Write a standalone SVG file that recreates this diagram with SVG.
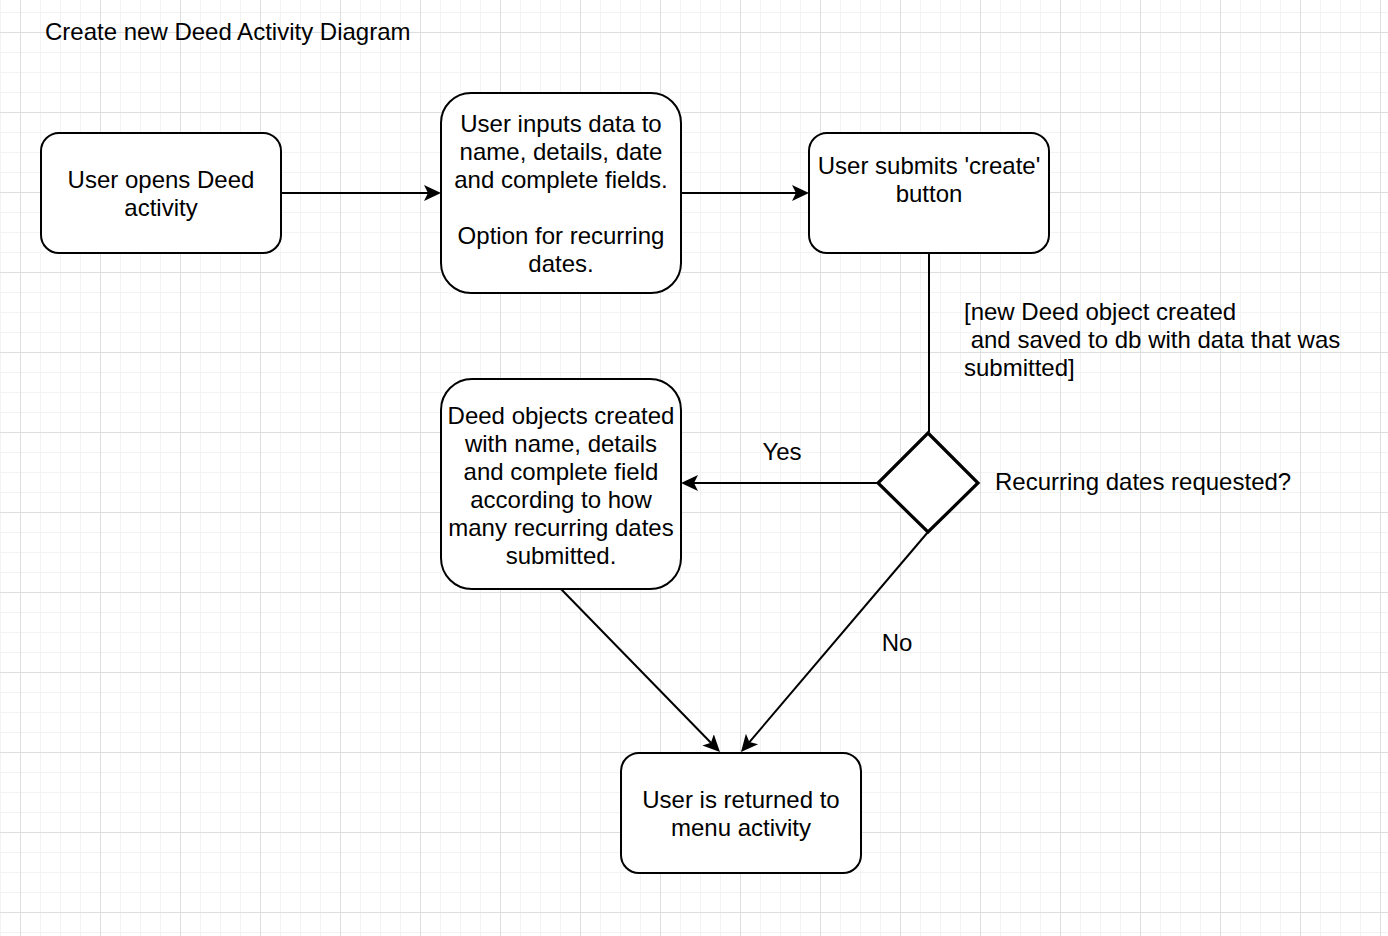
<svg xmlns="http://www.w3.org/2000/svg" width="1388" height="936" viewBox="0 0 1388 936">
<style>
.t{font-family:"Liberation Sans",Arial,Helvetica,sans-serif;font-size:24px;fill:#000}
.c{text-anchor:middle}
.n{fill:#fff;stroke:#000;stroke-width:2}
.d{fill:#fff;stroke:#000;stroke-width:3.2}
.e{fill:none;stroke:#000;stroke-width:2}
</style>
<defs>
<pattern id="grid" patternUnits="userSpaceOnUse" x="20" y="32" width="80" height="80">
<rect width="80" height="80" fill="#fff"/>
<rect x="20" y="0" width="1" height="80" fill="#f3f3f3"/>
<rect x="40" y="0" width="1" height="80" fill="#f3f3f3"/>
<rect x="60" y="0" width="1" height="80" fill="#f3f3f3"/>
<rect x="0" y="20" width="80" height="1" fill="#f3f3f3"/>
<rect x="0" y="40" width="80" height="1" fill="#f3f3f3"/>
<rect x="0" y="60" width="80" height="1" fill="#f3f3f3"/>
<rect x="0" y="0" width="1" height="80" fill="#dedede"/>
<rect x="0" y="0" width="80" height="1" fill="#dedede"/>
</pattern>
<marker id="arr" markerUnits="userSpaceOnUse" markerWidth="20" markerHeight="20" viewBox="0 -10 20 20" refX="4" refY="0" orient="auto">
<path d="M0,-8 L17,0 L0,8 L4,0 Z" fill="#000"/>
</marker>
</defs>
<rect width="1388" height="936" fill="url(#grid)"/>
<text class="t" x="45" y="40">Create new Deed Activity Diagram</text>
<g id="connectors">
<line class="e" x1="281" y1="193" x2="428" y2="193" marker-end="url(#arr)"/>
<line class="e" x1="681" y1="193" x2="796" y2="193" marker-end="url(#arr)"/>
<line class="e" x1="929" y1="253" x2="929" y2="432"/>
<line class="e" x1="878" y1="483" x2="694" y2="483" marker-end="url(#arr)"/>
<line class="e" x1="561" y1="589" x2="710.9" y2="742.7" marker-end="url(#arr)"/>
<line class="e" x1="928" y1="532" x2="749.4" y2="742.1" marker-end="url(#arr)"/>
<text class="t" x="964" y="320">[new Deed object created</text>
<text class="t" x="964" y="348" xml:space="preserve"> and saved to db with data that was</text>
<text class="t" x="964" y="376">submitted]</text>
<text class="t c" x="782" y="460">Yes</text>
<text class="t c" x="897" y="651">No</text>
</g>
<g id="start">
<rect class="n" x="41" y="133" width="240" height="120" rx="18" ry="18"/>
<text class="t c" x="161" y="188">User opens Deed</text>
<text class="t c" x="161" y="216">activity</text>
</g>
<g id="input">
<rect class="n" x="441" y="93" width="240" height="200" rx="30" ry="30"/>
<text class="t c" x="561" y="132">User inputs data to</text>
<text class="t c" x="561" y="160">name, details, date</text>
<text class="t c" x="561" y="188">and complete fields.</text>
<text class="t c" x="561" y="244">Option for recurring</text>
<text class="t c" x="561" y="272">dates.</text>
</g>
<g id="submit">
<rect class="n" x="809" y="133" width="240" height="120" rx="18" ry="18"/>
<text class="t c" x="929" y="174">User submits 'create'</text>
<text class="t c" x="929" y="202">button</text>
</g>
<g id="decision">
<polygon class="d" points="928,433 978,483 928,532 878,483"/>
<text class="t" x="995" y="490">Recurring dates requested?</text>
</g>
<g id="recurring">
<rect class="n" x="441" y="379" width="240" height="210" rx="31" ry="31"/>
<text class="t c" x="561" y="424">Deed objects created</text>
<text class="t c" x="561" y="452">with name, details</text>
<text class="t c" x="561" y="480">and complete field</text>
<text class="t c" x="561" y="508">according to how</text>
<text class="t c" x="561" y="536">many recurring dates</text>
<text class="t c" x="561" y="564">submitted.</text>
</g>
<g id="menu">
<rect class="n" x="621" y="753" width="240" height="120" rx="18" ry="18"/>
<text class="t c" x="741" y="808">User is returned to</text>
<text class="t c" x="741" y="836">menu activity</text>
</g>
</svg>
